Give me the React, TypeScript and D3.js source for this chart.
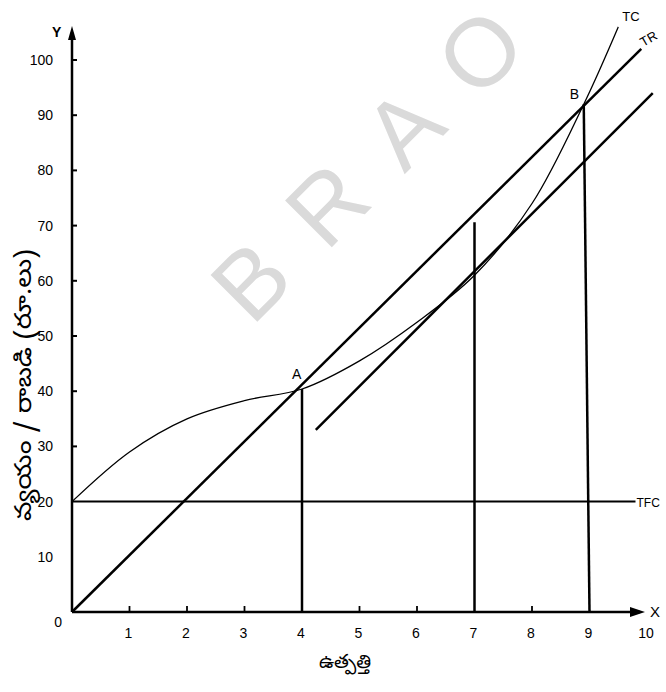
import React from "react";
import * as d3 from "d3";

// ---- data ----
const xTicks = [0, 1, 2, 3, 4, 5, 6, 7, 8, 9, 10];
const xTickMarks = [1, 2, 3, 5, 6, 8];
const yTickLabels = [0, 10, 20, 30, 40, 50, 60, 70, 80, 90, 100];
const yTickMarks = [30, 40, 50, 60, 70, 80, 90, 100];

// Total cost curve (output, cost)
const tcOutput = [0, 1, 2, 3, 4, 5, 6, 7, 8, 8.9, 9.5];
const tcValues = [20, 29, 35, 38.3, 40.4, 45.5, 52.5, 61, 74, 92, 106];

// Total revenue line (output, revenue)
const trOutput = [0, 9.9];
const trValues = [0, 102];

// Tangent line parallel to TR
const tangentOutput = [4.24, 10.1];
const tangentValues = [33, 94];

// Total fixed cost
const tfcValue = 20;
const tfcRange = [0, 9.8];

// Break-even points A and B, and the maximum-loss output
const pointA = { q: 4, v: 40.4, label: "A" };
const pointB = { q: 8.9, v: 92, label: "B" };
const lossQ = 7;
const lossTop = 70.6;

const W = 666;
const H = 692;

export default function App() {
  const x = d3.scaleLinear().domain([0, 10]).range([72, 647]);
  const y = d3.scaleLinear().domain([0, 100]).range([612, 60]);

  const line = d3
    .line<[number, number]>()
    .x((d) => x(d[0]))
    .y((d) => y(d[1]));
  const curve = d3
    .line<[number, number]>()
    .x((d) => x(d[0]))
    .y((d) => y(d[1]))
    .curve(d3.curveCatmullRom.alpha(0.5));

  const tcPts = tcOutput.map((q, i) => [q, tcValues[i]] as [number, number]);
  const trPts = trOutput.map((q, i) => [q, trValues[i]] as [number, number]);
  const tgPts = tangentOutput.map((q, i) => [q, tangentValues[i]] as [number, number]);

  const num = "'Liberation Sans', Arial, sans-serif";
  const telugu = "'Noto Sans Telugu', 'Gautami', 'Lohit Telugu', 'Pothana2000', sans-serif";

  const wmCenter = [365, 166];
  const wmLetters = ["B", "R", "A", "O"];
  const wmStep = 108;

  return (
    <svg
      width={W}
      height={H}
      style={{ position: "absolute", left: 0, top: 0, background: "#fff" }}
    >
      {/* watermark */}
      <g transform={`translate(${wmCenter[0]},${wmCenter[1]}) rotate(-45)`}>
        {wmLetters.map((l, i) => (
          <text
            key={l}
            x={(i - 1.5) * wmStep}
            y={34}
            textAnchor="middle"
            fontFamily={num}
            fontSize={96}
            fill="#dadada"
          >
            {l}
          </text>
        ))}
      </g>

      {/* axes */}
      <line x1={x(0)} y1={y(0)} x2={x(0)} y2={32} stroke="#000" strokeWidth={2.5} />
      <path d={`M${x(0) - 4},40 L${x(0)},26 L${x(0) + 4},40 Z`} fill="#000" />
      <line x1={x(0)} y1={y(0)} x2={640} y2={y(0)} stroke="#000" strokeWidth={2.5} />
      <path d={`M630,${y(0) - 5} L645,${y(0)} L630,${y(0) + 5} Z`} fill="#000" />
      <text x={52} y={37} fontFamily={num} fontSize={14} fontWeight="bold">Y</text>
      <text x={650} y={617} fontFamily={num} fontSize={15}>X</text>

      {/* y ticks */}
      {yTickMarks.map((v) => (
        <line key={v} x1={x(0)} x2={x(0) + 5} y1={y(v)} y2={y(v)} stroke="#000" strokeWidth={2} />
      ))}
      {yTickLabels.map((v) => (
        <text
          key={v}
          x={v === 0 ? 62 : 53}
          y={v === 0 ? y(v) + 15 : y(v) + 5}
          textAnchor="end"
          fontFamily={num}
          fontSize={14}
          fill="#000"
        >
          {v}
        </text>
      ))}

      {/* x ticks */}
      {xTickMarks.map((q) => (
        <line key={q} x1={x(q)} x2={x(q)} y1={y(0)} y2={y(0) - 6} stroke="#000" strokeWidth={1.8} />
      ))}
      {xTicks.filter((q) => q > 0).map((q) => (
        <text
          key={q}
          x={x(q) - 1}
          y={638}
          textAnchor="middle"
          fontFamily={num}
          fontSize={14}
          fill="#000"
        >
          {q}
        </text>
      ))}

      {/* TFC */}
      <line
        x1={x(tfcRange[0])}
        x2={x(tfcRange[1])}
        y1={y(tfcValue)}
        y2={y(tfcValue)}
        stroke="#000"
        strokeWidth={2}
      />
      <text x={x(tfcRange[1]) + 1} y={y(tfcValue) + 5} fontFamily={num} fontSize={12}>TFC</text>

      {/* verticals */}
      <line x1={x(pointA.q)} x2={x(pointA.q)} y1={y(0)} y2={y(pointA.v)} stroke="#000" strokeWidth={2.5} />
      <line x1={x(lossQ)} x2={x(lossQ)} y1={y(0)} y2={y(lossTop)} stroke="#000" strokeWidth={2.5} />
      <line x1={x(9)} x2={x(pointB.q)} y1={y(0)} y2={y(pointB.v)} stroke="#000" strokeWidth={2.5} />

      {/* TR */}
      <path d={line(trPts) || ""} fill="none" stroke="#000" strokeWidth={2.5} />
      <text
        transform={`translate(${x(trOutput[1]) + 2},${y(trValues[1]) - 2}) rotate(-30)`}
        fontFamily={num}
        fontSize={13}
      >
        TR
      </text>

      {/* tangent */}
      <path d={line(tgPts) || ""} fill="none" stroke="#000" strokeWidth={2.5} />

      {/* TC */}
      <path d={curve(tcPts) || ""} fill="none" stroke="#000" strokeWidth={1.3} />
      <text x={x(tcOutput[tcOutput.length - 1]) + 4} y={y(tcValues[tcValues.length - 1]) - 6} fontFamily={num} fontSize={13}>TC</text>

      {/* point labels */}
      <text x={x(pointA.q) - 10} y={y(pointA.v) - 10} fontFamily={num} fontSize={14}>{pointA.label}</text>
      <text x={x(pointB.q) - 14} y={y(pointB.v) - 5} fontFamily={num} fontSize={14}>{pointB.label}</text>

      {/* axis titles */}
      <text
        transform={`translate(31,${385}) rotate(-90)`}
        textAnchor="middle"
        fontFamily={telugu}
        fontSize={23}
        textLength={272}
        lengthAdjust="spacingAndGlyphs"
      >
        వ్యయం / రాబడి (రూ.లు)
      </text>
      <text x={345} y={668} textAnchor="middle" fontFamily={telugu} fontSize={19}>
        ఉత్పత్తి
      </text>
    </svg>
  );
}
